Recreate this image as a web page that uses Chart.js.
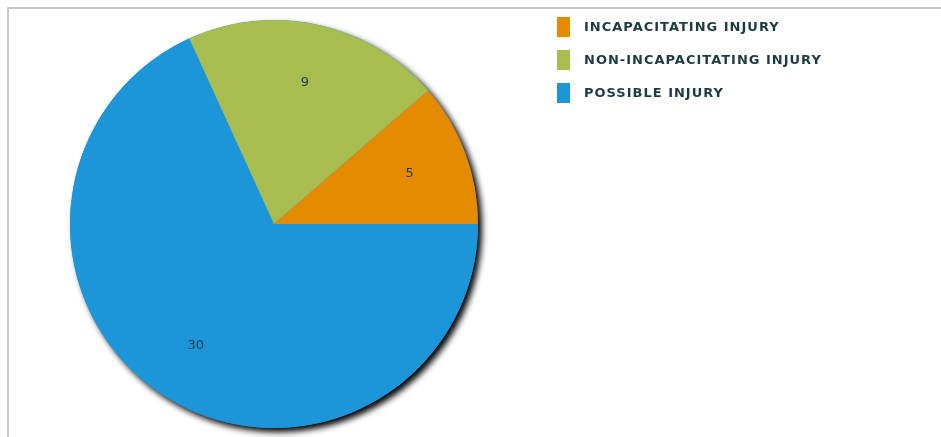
<!DOCTYPE html>
<html>
<head>
<meta charset="utf-8">
<script src="https://cdn.jsdelivr.net/npm/chart.js@4.4.0/dist/chart.umd.min.js"></script>
<style>
    html, body { margin: 0; padding: 0; background: #fff; overflow: hidden; }
    #wrap { position: relative; width: 941px; height: 437px; overflow: hidden; }
    .rule { position: absolute; background: #c8c8c8; }
    #ruleTop { left: 7px; top: 7px; width: 934px; height: 2px; }
    #ruleLeft { left: 7px; top: 7px; width: 2px; height: 430px; }
    #injuryChart { position: absolute; left: 0; top: 0; }
    #legend { position: absolute; left: 557px; top: 17px; margin: 0; padding: 0; list-style: none; }
    #legend li {
        position: relative; height: 20px; margin-bottom: 13px; white-space: nowrap;
        font: bold 13px "DejaVu Sans", Verdana, sans-serif; color: #1d3b42;
        line-height: 20px; padding-left: 27px; letter-spacing: 1px;
    }
    #legend li span { position: absolute; left: 0; top: 0; width: 13px; height: 20px; }
</style>
</head>
<body>
<div id="wrap">
    <div class="rule" id="ruleTop"></div>
    <div class="rule" id="ruleLeft"></div>
    <canvas id="injuryChart" width="941" height="437"></canvas>
    <ul id="legend"></ul>
</div>
<script>
const categories = ["INCAPACITATING INJURY", "NON-INCAPACITATING INJURY", "POSSIBLE INJURY"];
const injuryCounts = [5, 9, 30];
const sliceColors = ["#e68a00", "#a8bd4f", "#1c95d9"];

document.addEventListener("DOMContentLoaded", () => {
    // legend (same order as categories)
    const legend = document.getElementById("legend");
    categories.forEach((name, i) => {
        const li = document.createElement("li");
        li.innerHTML = '<span style="background:' + sliceColors[i] + '"></span>' + name;
        legend.appendChild(li);
    });

    // slices go counter-clockwise from 3 o'clock, so feed them reversed
    const drawLabels = categories.slice().reverse();
    const drawValues = injuryCounts.slice().reverse();
    const drawColors = sliceColors.slice().reverse();

    // one shadow for the whole pie, drawn under the slices
    const pieShadow = {
        id: "pieShadow",
        beforeDatasetsDraw(chart) {
            const arc = chart.getDatasetMeta(0).data[0];
            if (!arc) return;
            const { x, y, outerRadius } = arc.getProps(["x", "y", "outerRadius"], true);
            const ctx = chart.ctx;
            ctx.save();
            ctx.shadowColor = "#000";
            ctx.shadowBlur = 6;
            ctx.shadowOffsetX = 4;
            ctx.shadowOffsetY = 4;
            ctx.fillStyle = "#1c95d9";
            ctx.beginPath();
            ctx.arc(x, y, outerRadius, 0, Math.PI * 2);
            ctx.fill();
            ctx.restore();
        }
    };

    // value labels inside each slice
    const sliceValues = {
        id: "sliceValues",
        afterDatasetsDraw(chart) {
            const ctx = chart.ctx;
            const values = chart.data.datasets[0].data;
            ctx.save();
            ctx.font = "13px 'DejaVu Sans', Verdana, sans-serif";
            ctx.fillStyle = "#1f3d4a";
            ctx.textAlign = "center";
            ctx.textBaseline = "middle";
            chart.getDatasetMeta(0).data.forEach((arc, i) => {
                const p = arc.getProps(["x", "y", "startAngle", "endAngle", "outerRadius"], true);
                const mid = (p.startAngle + p.endAngle) / 2;
                const r = p.outerRadius * 0.71;
                ctx.fillText(String(values[i]), p.x + Math.cos(mid) * r, p.y + Math.sin(mid) * r);
            });
            ctx.restore();
        }
    };

    const ctxPie = document.getElementById("injuryChart");
    new Chart(ctxPie, {
        type: "pie",
        data: {
            labels: drawLabels,
            datasets: [{
                data: drawValues,
                backgroundColor: drawColors,
                borderWidth: 0
            }]
        },
        options: {
            responsive: false,
            animation: false,
            rotation: 90,
            layout: { padding: { left: 70, right: 463, top: 20, bottom: 9 } },
            plugins: {
                legend: { display: false },
                tooltip: { enabled: false }
            }
        },
        plugins: [pieShadow, sliceValues]
    });
});
</script>
</body>
</html>
